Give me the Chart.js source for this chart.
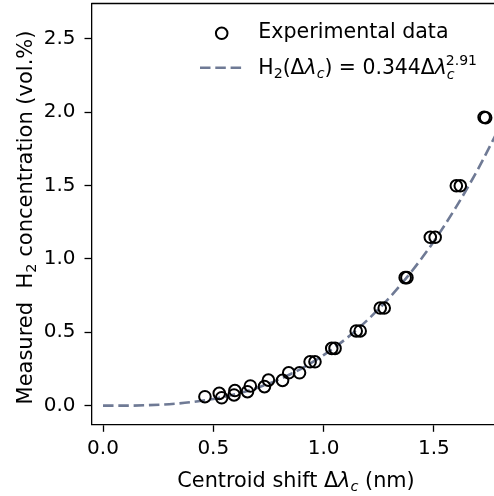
<!DOCTYPE html>
<html>
<head>
<meta charset="utf-8">
<script src="https://cdn.jsdelivr.net/npm/chart.js@4.4.1/dist/chart.umd.min.js"></script>
<style>
html, body { margin: 0; padding: 0; background: #fff; overflow: hidden; }
#wrap { width: 494px; height: 496px; overflow: hidden; }
canvas { display: block; }
</style>
</head>
<body>
<div id="wrap"><canvas id="chart" width="500" height="496"></canvas></div>
<script>
// measured points (centroid shift in nm, H2 in vol.%)
const shiftNm = [0.462, 0.527, 0.538, 0.594, 0.598, 0.655, 0.668, 0.732, 0.750, 0.814,
    0.842, 0.891, 0.939, 0.961, 1.037, 1.052, 1.148, 1.166, 1.257, 1.275,
    1.370, 1.378, 1.484, 1.506, 1.602, 1.620, 1.728, 1.735];
const h2Conc = [0.061, 0.084, 0.054, 0.073, 0.103, 0.095, 0.134, 0.130, 0.174, 0.172,
    0.224, 0.224, 0.299, 0.299, 0.390, 0.390, 0.509, 0.509, 0.665, 0.665,
    0.872, 0.872, 1.147, 1.147, 1.498, 1.498, 1.965, 1.962];

// fitted curve
const fitShift = [0, 0.1, 0.2, 0.3, 0.4, 0.5, 0.6, 0.7, 0.8, 0.9, 1.0, 1.1, 1.2, 1.3, 1.4, 1.5, 1.6, 1.7, 1.8];
const fitConc = [0, 0, 0.003, 0.01, 0.024, 0.046, 0.078, 0.122, 0.18, 0.253, 0.344, 0.454, 0.585, 0.738, 0.916, 1.119, 1.351, 1.611, 1.903];

// ticks
const xTicks = [0, 0.5, 1.0, 1.5];
const yTicks = [0, 0.5, 1.0, 1.5, 2.0, 2.5];

const FONT = '"DejaVu Sans"';
const LINE_COLOR = '#6f7a95';

function drawRich(ctx, parts, x, y) {
    let cx = x;
    parts.forEach(p => {
        ctx.font = (p.italic ? 'italic ' : '') + (p.size || 20.6) + 'px ' + FONT;
        ctx.fillText(p.t, cx + (p.dx || 0), y + (p.dy || 0));
        if (!p.noAdv) cx += ctx.measureText(p.t).width + (p.dx || 0);
    });
    return cx - x;
}

function richWidth(ctx, parts) {
    let w = 0;
    parts.forEach(p => {
        ctx.font = (p.italic ? 'italic ' : '') + (p.size || 20.6) + 'px ' + FONT;
        if (!p.noAdv) w += ctx.measureText(p.t).width + (p.dx || 0);
    });
    return w;
}

const xTitle = [
    { t: 'Centroid shift Δ', size: 20.8 },
    { t: 'λ', italic: true, size: 20.8 },
    { t: 'c', italic: true, size: 14.5, dy: 4 },
    { t: ' (nm)', size: 20.8 }
];
const yTitle = [
    { t: 'Measured  H', size: 21 },
    { t: '2', size: 14.7, dy: 4 },
    { t: ' concentration (vol.%)', size: 21 }
];
const fitLabel = [
    { t: 'H', size: 20.4 },
    { t: '2', size: 14.2, dy: 4 },
    { t: '(Δ', size: 20.4 },
    { t: 'λ', italic: true, size: 20.4 },
    { t: 'c', italic: true, size: 14.2, dy: 4 },
    { t: ') = 0.344Δ', size: 20.4 },
    { t: 'λ', italic: true, size: 20.4 },
    { t: 'c', italic: true, size: 14.2, dy: 5, noAdv: true },
    { t: '2.91', size: 14, dy: -9, dx: -1 }
];

const decor = {
    id: 'decor',
    afterDraw(chart) {
        const ctx = chart.ctx;
        const a = chart.chartArea;
        ctx.save();
        // top spine
        ctx.strokeStyle = '#000';
        ctx.lineWidth = 1.3;
        ctx.beginPath();
        ctx.moveTo(a.left - 0.65, a.top);
        ctx.lineTo(a.right, a.top);
        ctx.stroke();

        ctx.fillStyle = '#000';
        ctx.textBaseline = 'alphabetic';

        // x title
        const xw = richWidth(ctx, xTitle);
        drawRich(ctx, xTitle, (a.left + a.right) / 2 - xw / 2, 486.5);

        // y title
        ctx.save();
        ctx.translate(32, 217.5);
        ctx.rotate(-Math.PI / 2);
        const yw = richWidth(ctx, yTitle);
        drawRich(ctx, yTitle, -yw / 2, 0);
        ctx.restore();

        // legend
        ctx.lineWidth = 2;
        ctx.beginPath();
        ctx.arc(221.7, 33.3, 5.8, 0, Math.PI * 2);
        ctx.stroke();
        drawRich(ctx, [{ t: 'Experimental data' }], 258.3, 38);

        ctx.strokeStyle = LINE_COLOR;
        ctx.lineWidth = 2.6;
        ctx.setLineDash([10.5, 4.8]);
        ctx.beginPath();
        ctx.moveTo(200, 67.7);
        ctx.lineTo(242, 67.7);
        ctx.stroke();
        ctx.setLineDash([]);
        drawRich(ctx, fitLabel, 258.3, 73.5);
        ctx.restore();
    }
};

const pointData = shiftNm.map((x, i) => ({ x: x, y: h2Conc[i] }));
const fitData = fitShift.map((x, i) => ({ x: x, y: fitConc[i] }));

function noPad(s) {
    s.paddingTop = 0;
    s.paddingBottom = 0;
    s.paddingLeft = 0;
    s.paddingRight = 0;
}

new Chart(document.getElementById('chart'), {
    type: 'scatter',
    data: {
        datasets: [
            {
                label: 'Experimental data',
                data: pointData,
                order: 0,
                pointRadius: 5.8,
                pointHoverRadius: 5.8,
                pointBorderWidth: 2,
                pointBorderColor: '#000',
                pointBackgroundColor: 'rgba(0,0,0,0)'
            },
            {
                label: 'fit',
                type: 'line',
                data: fitData,
                order: 1,
                showLine: true,
                pointRadius: 0,
                borderColor: LINE_COLOR,
                borderWidth: 2.6,
                borderDash: [10.5, 4.8],
                cubicInterpolationMode: 'monotone',
                fill: false
            }
        ]
    },
    plugins: [decor],
    options: {
        responsive: false,
        animation: false,
        layout: { autoPadding: false, padding: { top: 3.5, left: 0, right: 0, bottom: 0 } },
        plugins: {
            legend: { display: false },
            tooltip: { enabled: false }
        },
        scales: {
            x: {
                type: 'linear',
                min: -0.05,
                max: 1.8,
                afterBuildTicks: s => { s.ticks = xTicks.map(v => ({ value: v })); },
                afterFit: s => { s.height = 71.7; noPad(s); },
                border: { display: true, color: '#000', width: 1.3 },
                grid: { drawOnChartArea: false, drawTicks: true, tickLength: 7.5, tickColor: '#000', tickWidth: 1.3 },
                ticks: {
                    color: '#000',
                    padding: 5,
                    maxRotation: 0,
                    font: { family: FONT, size: 20 },
                    callback: v => v.toFixed(1)
                }
            },
            y: {
                type: 'linear',
                min: -0.127,
                max: 2.74,
                afterBuildTicks: s => { s.ticks = yTicks.map(v => ({ value: v })); },
                afterFit: s => { s.width = 92; noPad(s); },
                border: { display: true, color: '#000', width: 1.3 },
                grid: { drawOnChartArea: false, drawTicks: true, tickLength: 7.5, tickColor: '#000', tickWidth: 1.3 },
                ticks: {
                    color: '#000',
                    padding: 9,
                    font: { family: FONT, size: 20 },
                    callback: v => v.toFixed(1)
                }
            }
        }
    }
});
</script>
</body>
</html>
